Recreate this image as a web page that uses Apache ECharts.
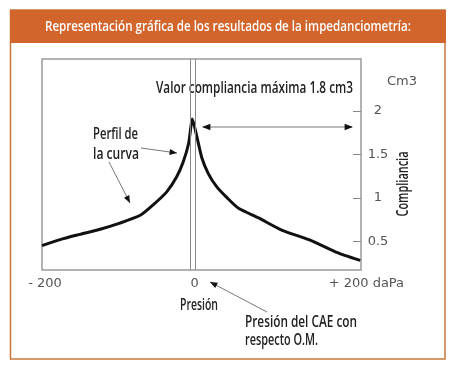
<!DOCTYPE html>
<html>
<head>
<meta charset="utf-8">
<script src="https://cdn.jsdelivr.net/npm/echarts@6/dist/echarts.min.js"></script>
<style>
html,body{margin:0;padding:0;background:#fff;}
#chart{width:455px;height:373px;}
</style>
</head>
<body>
<div id="chart"></div>
<script>
// Data
var pressure   = [-200, -176, -150, -123, -97, -70, -53, -35, -22, -13, -6, -1, 5, 11.5, 20, 31, 45, 60, 86.5, 117, 153, 188, 221];
var compliance = [0.45, 0.52, 0.58, 0.64, 0.71, 0.80, 0.92, 1.07, 1.24, 1.42, 1.63, 1.91, 1.70, 1.46, 1.28, 1.13, 1.00, 0.88, 0.77, 0.63, 0.52, 0.38, 0.28];
var xTicks = [-200, 0, 200];
var xTickLabels = ['- 200', '0', '+ 200 daPa'];
var yTicks = [0.5, 1, 1.5, 2];
var yTickLabels = ['0.5', '1', '1.5', '2'];
var peakLines = [-3.5, 2.5];

var title = 'Representación gráfica de los resultados de la impedanciometría:';
var annoFamily = '"Open Sans","Noto Sans",sans-serif';
var tickFont = '"DejaVu Sans","Liberation Sans",sans-serif';

var ctx = document.createElement('canvas').getContext('2d');
function fitScale(text, font, w){ ctx.font = font; return w / ctx.measureText(text).width; }

function ctext(text, x, y, w, size, opts){
  opts = opts || {};
  var font = (opts.weight||'600') + ' ' + size + 'px ' + annoFamily;
  var s = fitScale(text, font, w);
  return {type:'text', x:x, y:y, scaleX:s, rotation:opts.rotation||0,
    style:{text:text, fill:opts.fill||'#222', font:font, align:opts.align||'left', verticalAlign:'middle'}, z:5};
}

var chart = echarts.init(document.getElementById('chart'), null, {renderer:'canvas'});

function arrowHead(x, y, ang, size) {
  var a1 = ang + Math.PI - 0.38, a2 = ang + Math.PI + 0.38;
  return {type:'polygon', shape:{points:[[x,y],[x+size*Math.cos(a1), y+size*Math.sin(a1)],[x+size*Math.cos(a2), y+size*Math.sin(a2)]]}, style:{fill:'#111'}, z:10};
}
function arrow(x1,y1,x2,y2,size){
  var ang = Math.atan2(y2-y1, x2-x1);
  return [
    {type:'line', shape:{x1:x1,y1:y1,x2:x2,y2:y2}, style:{stroke:'#777', lineWidth:1}, z:10},
    arrowHead(x2,y2,ang,size)
  ];
}

var graphics = [
  {type:'rect', shape:{x:10.5,y:10,width:434.5,height:349}, style:{fill:'#fff', stroke:'#c8773a', lineWidth:1.5}, z:-10},
  {type:'rect', shape:{x:10,y:10,width:436,height:33}, style:{fill:'#d2652c'}, z:-5},
  ctext(title, 45, 27, 366, 15, {fill:'#fff', weight:'600'}),
  ctext('Valor compliancia máxima 1.8 cm3', 156, 88, 197, 16),
  ctext('Perfil de', 93, 134, 45, 16),
  ctext('la curva', 93, 154, 46, 16),
  ctext('Presión', 180, 305, 38, 16),
  ctext('Presión del CAE con', 245, 322, 112, 16),
  ctext('respecto O.M.', 245, 340, 73, 16),
  {type:'text', x:402, y:82, style:{text:'Cm3', fill:'#555', font:'13px '+tickFont, align:'center', verticalAlign:'middle'}, z:5},
  ctext('Compliancia', 403, 184, 65, 16, {rotation:Math.PI/2, align:'center'}),
  {type:'line', shape:{x1:203,y1:127,x2:352,y2:127}, style:{stroke:'#777', lineWidth:1}, z:10},
  arrowHead(202,127,Math.PI,9),
  arrowHead(353,127,0,9)
].concat(arrow(141,148,177,153,8), arrow(109,162,130,203,8), arrow(267,312,210,282,8));

chart.setOption({
  backgroundColor:'#fff',
  animation:false,
  grid:{left:42, top:59, right:94, bottom:103, show:true, borderColor:'#9a9a9a', borderWidth:1.5, backgroundColor:'transparent'},
  xAxis:{
    type:'value', min:-200, max:222,
    axisLine:{show:false}, axisTick:{show:false}, splitLine:{show:false},
    axisLabel:{
      customValues:xTicks, margin:7, color:'#555', fontFamily:tickFont, fontSize:13,
      formatter:function(v){ var i = xTicks.indexOf(v); var s = xTickLabels[i]; return i===2 ? '{r|'+s+'}' : (i===0 ? '{l|'+s+'}' : '{c|'+s+'}'); },
      rich:{
        l:{padding:[0,0,0,6], color:'#555', fontFamily:tickFont, fontSize:13},
        c:{padding:[0,0,0,3], color:'#555', fontFamily:tickFont, fontSize:13},
        r:{padding:[0,0,0,44], color:'#555', fontFamily:tickFont, fontSize:13}
      }
    }
  },
  yAxis:{
    type:'value', position:'right', min:0.17, max:2.6,
    axisLine:{show:false, onZero:false}, splitLine:{show:false},
    axisTick:{show:true, inside:true, length:8, customValues:yTicks, lineStyle:{color:'#888', width:1}},
    axisLabel:{customValues:yTicks, margin:17, align:'center', color:'#555', fontFamily:tickFont, fontSize:13,
      formatter:function(v){ return yTickLabels[yTicks.indexOf(v)]; }}
  },
  graphic:graphics,
  series:[{
    type:'line', data:pressure.map(function(p,i){return [p, compliance[i]];}),
    symbol:'none', smooth:0.2, lineStyle:{color:'#111', width:3}, z:3,
    markLine:{silent:true, symbol:'none', label:{show:false},
      lineStyle:{color:'#888', width:1, type:'solid'},
      data:peakLines.map(function(v){return {xAxis:v};})}
  }]
});
</script>
</body>
</html>
